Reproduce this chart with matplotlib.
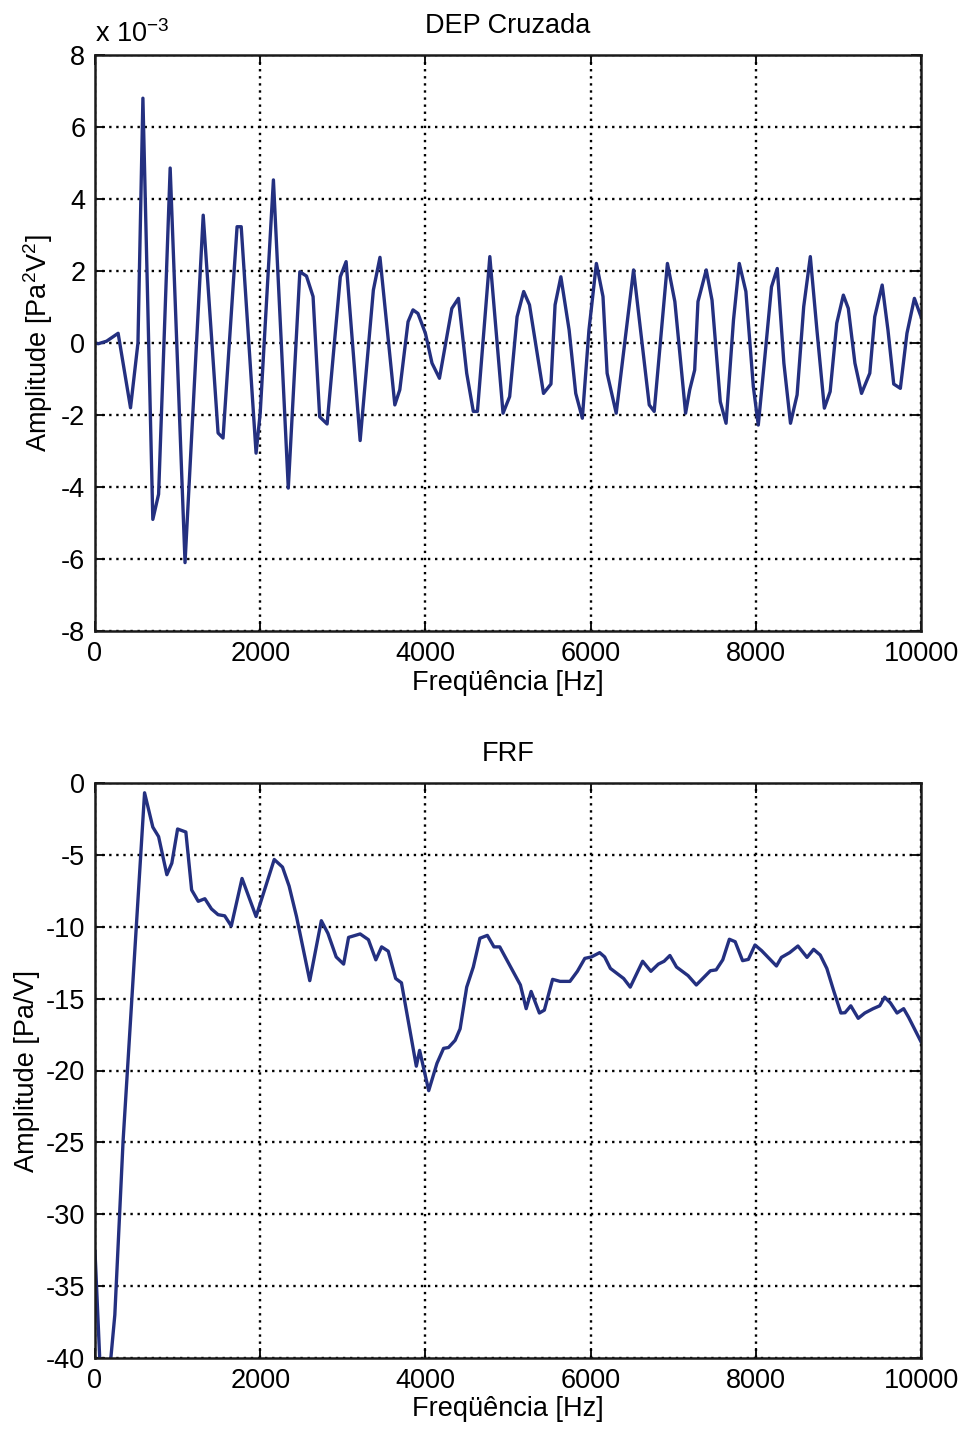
import matplotlib
matplotlib.use('Agg')
import matplotlib.pyplot as plt

plt.rcParams['font.family'] = ['Liberation Sans', 'DejaVu Sans']
plt.rcParams['mathtext.default'] = 'regular'

# Cross spectral density (x 1e-3), vertices
dep_freq = [0, 40, 140, 280, 430, 520, 580, 700, 770, 910, 1090, 1310, 1490, 1550,
            1720, 1770, 1950, 2000, 2160, 2340, 2480, 2560, 2640, 2720, 2810, 2970,
            3040, 3210, 3370, 3450, 3630, 3690, 3790, 3850, 3910, 4000, 4080, 4170,
            4320, 4400, 4500, 4580, 4630, 4780, 4940, 5020, 5110, 5190, 5260, 5430,
            5520, 5570, 5640, 5740, 5820, 5900, 5980, 6070, 6150, 6200, 6310, 6520,
            6710, 6770, 6930, 7020, 7150, 7200, 7260, 7300, 7400, 7470, 7570, 7640,
            7730, 7800, 7880, 7970, 8030, 8110, 8190, 8260, 8340, 8420, 8500, 8580,
            8660, 8740, 8830, 8900, 8980, 9060, 9120, 9200, 9280, 9380, 9440, 9530,
            9600, 9670, 9750, 9830, 9920, 10000]
dep_amp = [0.0, -0.02, 0.05, 0.27, -1.8, 0.0, 6.8, -4.9, -4.2, 4.86, -6.1, 3.55, -2.5, -2.64,
           3.23, 3.23, -3.06, -1.95, 4.53, -4.03, 1.98, 1.86, 1.29, -2.05, -2.25, 1.84,
           2.26, -2.71, 1.47, 2.38, -1.72, -1.3, 0.59, 0.92, 0.82, 0.27, -0.56, -0.98,
           0.96, 1.24, -0.84, -1.9, -1.9, 2.4, -1.95, -1.49, 0.73, 1.43, 1.06, -1.4,
           -1.14, 1.06, 1.84, 0.36, -1.4, -2.09, 0.36, 2.21, 1.29, -0.84, -1.95, 2.03,
           -1.72, -1.9, 2.21, 1.15, -1.95, -1.3, -0.75, 1.15, 2.03, 1.19, -1.63, -2.23,
           0.64, 2.21, 1.43, -1.21, -2.28, -0.38, 1.56, 2.07, -0.56, -2.23, -1.44, 1.01,
           2.4, 0.36, -1.81, -1.35, 0.55, 1.33, 0.96, -0.56, -1.4, -0.84, 0.73, 1.61,
           0.36, -1.14, -1.26, 0.27, 1.24, 0.73]

# FRF magnitude, vertices
frf_freq = [0, 80, 160, 240, 340, 600, 700, 770, 870, 930, 1000, 1100, 1170, 1250,
            1330, 1410, 1490, 1570, 1650, 1780, 1950, 2170, 2270, 2350, 2440, 2600,
            2740, 2820, 2920, 3010, 3070, 3210, 3310, 3400, 3470, 3550, 3640, 3710,
            3890, 3930, 4040, 4140, 4220, 4280, 4360, 4420, 4500, 4580, 4660, 4750,
            4830, 4900, 5150, 5220, 5280, 5380, 5440, 5540, 5630, 5750, 5840, 5930,
            6010, 6110, 6170, 6240, 6400, 6480, 6630, 6730, 6820, 6890, 6960, 7040,
            7180, 7280, 7450, 7520, 7600, 7680, 7750, 7840, 7910, 7990, 8070, 8250,
            8310, 8410, 8510, 8620, 8700, 8780, 8860, 8940, 9030, 9080, 9150, 9240,
            9320, 9420, 9500, 9560, 9630, 9710, 9790, 9850, 10000]
frf_amp = [-32.6, -43, -42, -37, -24.9, -0.68, -3.07, -3.73, -6.38, -5.58, -3.2, -3.41, -7.44, -8.23,
           -8.05, -8.76, -9.16, -9.24, -9.95, -6.64, -9.29, -5.32, -5.85, -7.17, -9.3, -13.75,
           -9.58, -10.46, -12.1, -12.6, -10.74, -10.5, -10.9, -12.3, -11.4, -11.7, -13.6, -13.9,
           -19.7, -18.6, -21.4, -19.5, -18.46, -18.4, -17.9, -17.1, -14.2, -12.8, -10.8, -10.6,
           -11.4, -11.4, -14.05, -15.7, -14.5, -16.0, -15.8, -13.66, -13.8, -13.8, -13.1, -12.2,
           -12.1, -11.8, -12.1, -12.9, -13.6, -14.2, -12.4, -13.1, -12.6, -12.4, -12.0, -12.8,
           -13.4, -14.05, -13.06, -13.0, -12.3, -10.87, -11.04, -12.36, -12.27, -11.27, -11.66, -12.73,
           -12.13, -11.8, -11.34, -12.13, -11.57, -11.97, -12.9, -14.4, -16.0, -15.98, -15.5, -16.37,
           -16.0, -15.7, -15.5, -14.9, -15.3, -16.0, -15.7, -16.3, -18.0]

x_ticks = [0, 2000, 4000, 6000, 8000, 10000]
dep_ticks = [-8, -6, -4, -2, 0, 2, 4, 6, 8]
frf_ticks = [-40, -35, -30, -25, -20, -15, -10, -5, 0]

line_color = '#243080'
fs = 19.5

fig = plt.figure(figsize=(9.68, 14.29), dpi=100)
ax1 = fig.add_axes([95 / 968, 1 - 631 / 1429, 826 / 968, 576 / 1429])
ax2 = fig.add_axes([95 / 968, 1 - 1358 / 1429, 826 / 968, 575 / 1429])


def style_axis(ax, yticks):
    ax.set_xlim(0, 10000)
    ax.set_ylim(yticks[0], yticks[-1])
    ax.set_xticks(x_ticks)
    ax.set_yticks(yticks)
    ax.tick_params(direction='in', length=7, width=1.3, top=True, right=True,
                   labelsize=fs, pad=7, colors='black')
    ax.grid(True, color='black', linestyle=(0, (1, 2.0)), linewidth=1.7)
    for s in ax.spines.values():
        s.set_linewidth(1.8)
        s.set_color('#1a1a1a')


ax1.plot(dep_freq, [a * 1e-3 for a in dep_amp], color=line_color, lw=2.4)
style_axis(ax1, [t * 1e-3 for t in dep_ticks])
ax1.set_yticklabels([str(t) for t in dep_ticks])
ax1.text(0, 1.012, 'x 10$^{-3}$', transform=ax1.transAxes, fontsize=fs,
         ha='left', va='bottom')
ax1.set_title('DEP Cruzada', fontsize=fs, pad=16)
ax1.set_xlabel('Freqüência [Hz]', fontsize=fs, labelpad=2)
ax1.set_ylabel('Amplitude [Pa$^2$V$^2$]', fontsize=fs, labelpad=4)

ax2.plot(frf_freq, frf_amp, color=line_color, lw=2.4)
style_axis(ax2, frf_ticks)
ax2.set_yticklabels([str(t) for t in frf_ticks])
ax2.set_title('FRF', fontsize=fs, pad=16)
ax2.set_xlabel('Freqüência [Hz]', fontsize=fs, labelpad=2)
ax2.set_ylabel('Amplitude [Pa/V]', fontsize=fs, labelpad=4)

fig.savefig('out.png', dpi=100)
